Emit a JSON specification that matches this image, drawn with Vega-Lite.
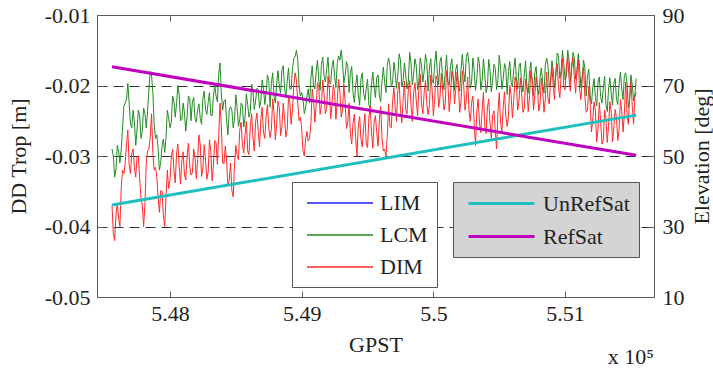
{
"$schema": "https://vega.github.io/schema/vega-lite/v6.json",
"width": 557, "height": 282,
"autosize": {"type": "none"},
"padding": {"left": 97, "top": 15, "right": 59, "bottom": 74},
"background": "white",
"config": {"view": {"stroke": "#5a5a5a", "strokeWidth": 1}, "font": "Liberation Serif"},
"title": {"text": "x 10⁵", "orient": "bottom", "anchor": "end", "frame": "group", "fontSize": 22, "fontWeight": "normal", "font": "Liberation Serif", "color": "#222222", "offset": -8},
"datasets": {
"trop": [
{"t":547560,"LCM":-0.0290,"DIM":-0.0370},{"t":547570,"LCM":-0.0300,"DIM":-0.0410},{"t":547580,"LCM":-0.0330,"DIM":-0.0420},{"t":547590,"LCM":-0.0320,"DIM":-0.0385},{"t":547600,"LCM":-0.0285,"DIM":-0.0367},{"t":547610,"LCM":-0.0293,"DIM":-0.0388},{"t":547620,"LCM":-0.0310,"DIM":-0.0400},{"t":547630,"LCM":-0.0291,"DIM":-0.0344},{"t":547640,"LCM":-0.0260,"DIM":-0.0320},{"t":547650,"LCM":-0.0229,"DIM":-0.0325},
{"t":547660,"LCM":-0.0225,"DIM":-0.0310},{"t":547670,"LCM":-0.0220,"DIM":-0.0284},{"t":547680,"LCM":-0.0197,"DIM":-0.0263},{"t":547690,"LCM":-0.0224,"DIM":-0.0312},{"t":547700,"LCM":-0.0255,"DIM":-0.0325},{"t":547710,"LCM":-0.0260,"DIM":-0.0296},{"t":547720,"LCM":-0.0235,"DIM":-0.0290},{"t":547730,"LCM":-0.0252,"DIM":-0.0316},{"t":547740,"LCM":-0.0285,"DIM":-0.0330},{"t":547750,"LCM":-0.0263,"DIM":-0.0301},
{"t":547760,"LCM":-0.0235,"DIM":-0.0300},{"t":547770,"LCM":-0.0243,"DIM":-0.0332},{"t":547780,"LCM":-0.0275,"DIM":-0.0360},{"t":547790,"LCM":-0.0264,"DIM":-0.0370},{"t":547800,"LCM":-0.0232,"DIM":-0.0400},{"t":547810,"LCM":-0.0240,"DIM":-0.0368},{"t":547820,"LCM":-0.0260,"DIM":-0.0310},{"t":547830,"LCM":-0.0237,"DIM":-0.0293},{"t":547840,"LCM":-0.0205,"DIM":-0.0290},{"t":547850,"LCM":-0.0180,"DIM":-0.0274},
{"t":547860,"LCM":-0.0185,"DIM":-0.0240},{"t":547870,"LCM":-0.0210,"DIM":-0.0295},{"t":547880,"LCM":-0.0255,"DIM":-0.0320},{"t":547890,"LCM":-0.0275,"DIM":-0.0316},{"t":547900,"LCM":-0.0270,"DIM":-0.0330},{"t":547910,"LCM":-0.0290,"DIM":-0.0359},{"t":547920,"LCM":-0.0320,"DIM":-0.0380},{"t":547930,"LCM":-0.0309,"DIM":-0.0349},{"t":547940,"LCM":-0.0285,"DIM":-0.0350},{"t":547950,"LCM":-0.0276,"DIM":-0.0385},
{"t":547960,"LCM":-0.0295,"DIM":-0.0400},{"t":547970,"LCM":-0.0274,"DIM":-0.0357},{"t":547980,"LCM":-0.0235,"DIM":-0.0320},{"t":547990,"LCM":-0.0246,"DIM":-0.0346},{"t":548000,"LCM":-0.0260,"DIM":-0.0335},{"t":548010,"LCM":-0.0253,"DIM":-0.0301},{"t":548020,"LCM":-0.0215,"DIM":-0.0290},{"t":548030,"LCM":-0.0222,"DIM":-0.0320},{"t":548040,"LCM":-0.0245,"DIM":-0.0338},{"t":548050,"LCM":-0.0226,"DIM":-0.0297},
{"t":548060,"LCM":-0.0200,"DIM":-0.0283},{"t":548070,"LCM":-0.0213,"DIM":-0.0314},{"t":548080,"LCM":-0.0250,"DIM":-0.0340},{"t":548090,"LCM":-0.0248,"DIM":-0.0307},{"t":548100,"LCM":-0.0225,"DIM":-0.0294},{"t":548110,"LCM":-0.0239,"DIM":-0.0327},{"t":548120,"LCM":-0.0265,"DIM":-0.0334},{"t":548130,"LCM":-0.0244,"DIM":-0.0301},{"t":548140,"LCM":-0.0215,"DIM":-0.0282},{"t":548150,"LCM":-0.0218,"DIM":-0.0314},
{"t":548160,"LCM":-0.0250,"DIM":-0.0327},{"t":548170,"LCM":-0.0224,"DIM":-0.0324},{"t":548180,"LCM":-0.0217,"DIM":-0.0290},{"t":548190,"LCM":-0.0247,"DIM":-0.0302},{"t":548200,"LCM":-0.0252,"DIM":-0.0332},{"t":548210,"LCM":-0.0234,"DIM":-0.0305},{"t":548220,"LCM":-0.0226,"DIM":-0.0270},{"t":548230,"LCM":-0.0247,"DIM":-0.0284},{"t":548240,"LCM":-0.0255,"DIM":-0.0329},{"t":548250,"LCM":-0.0218,"DIM":-0.0317},
{"t":548260,"LCM":-0.0208,"DIM":-0.0284},{"t":548270,"LCM":-0.0234,"DIM":-0.0306},{"t":548280,"LCM":-0.0241,"DIM":-0.0333},{"t":548290,"LCM":-0.0224,"DIM":-0.0323},{"t":548300,"LCM":-0.0210,"DIM":-0.0277},{"t":548310,"LCM":-0.0242,"DIM":-0.0294},{"t":548320,"LCM":-0.0243,"DIM":-0.0335},{"t":548330,"LCM":-0.0214,"DIM":-0.0313},{"t":548340,"LCM":-0.0200,"DIM":-0.0278},{"t":548350,"LCM":-0.0215,"DIM":-0.0281},
{"t":548360,"LCM":-0.0223,"DIM":-0.0312},{"t":548370,"LCM":-0.0184,"DIM":-0.0271},{"t":548380,"LCM":-0.0168,"DIM":-0.0225},{"t":548390,"LCM":-0.0212,"DIM":-0.0258},{"t":548400,"LCM":-0.0235,"DIM":-0.0310},{"t":548410,"LCM":-0.0222,"DIM":-0.0311},{"t":548420,"LCM":-0.0220,"DIM":-0.0286},{"t":548430,"LCM":-0.0249,"DIM":-0.0307},{"t":548440,"LCM":-0.0270,"DIM":-0.0342},{"t":548450,"LCM":-0.0235,"DIM":-0.0335},
{"t":548460,"LCM":-0.0230,"DIM":-0.0310},{"t":548470,"LCM":-0.0235,"DIM":-0.0349},{"t":548480,"LCM":-0.0260,"DIM":-0.0358},{"t":548490,"LCM":-0.0249,"DIM":-0.0313},{"t":548500,"LCM":-0.0213,"DIM":-0.0285},{"t":548510,"LCM":-0.0231,"DIM":-0.0299},{"t":548520,"LCM":-0.0258,"DIM":-0.0305},{"t":548530,"LCM":-0.0248,"DIM":-0.0263},{"t":548540,"LCM":-0.0225,"DIM":-0.0252},{"t":548550,"LCM":-0.0228,"DIM":-0.0284},
{"t":548560,"LCM":-0.0259,"DIM":-0.0296},{"t":548570,"LCM":-0.0245,"DIM":-0.0271},{"t":548580,"LCM":-0.0212,"DIM":-0.0251},{"t":548590,"LCM":-0.0227,"DIM":-0.0293},{"t":548600,"LCM":-0.0245,"DIM":-0.0298},{"t":548610,"LCM":-0.0237,"DIM":-0.0257},{"t":548620,"LCM":-0.0198,"DIM":-0.0240},{"t":548630,"LCM":-0.0208,"DIM":-0.0273},{"t":548640,"LCM":-0.0234,"DIM":-0.0293},{"t":548650,"LCM":-0.0222,"DIM":-0.0252},
{"t":548660,"LCM":-0.0204,"DIM":-0.0239},{"t":548670,"LCM":-0.0206,"DIM":-0.0265},{"t":548680,"LCM":-0.0232,"DIM":-0.0287},{"t":548690,"LCM":-0.0222,"DIM":-0.0249},{"t":548700,"LCM":-0.0192,"DIM":-0.0231},{"t":548710,"LCM":-0.0204,"DIM":-0.0266},{"t":548720,"LCM":-0.0227,"DIM":-0.0275},{"t":548730,"LCM":-0.0210,"DIM":-0.0244},{"t":548740,"LCM":-0.0185,"DIM":-0.0227},{"t":548750,"LCM":-0.0193,"DIM":-0.0260},
{"t":548760,"LCM":-0.0231,"DIM":-0.0274},{"t":548770,"LCM":-0.0197,"DIM":-0.0262},{"t":548780,"LCM":-0.0182,"DIM":-0.0219},{"t":548790,"LCM":-0.0216,"DIM":-0.0239},{"t":548800,"LCM":-0.0225,"DIM":-0.0277},{"t":548810,"LCM":-0.0197,"DIM":-0.0254},{"t":548820,"LCM":-0.0179,"DIM":-0.0222},{"t":548830,"LCM":-0.0201,"DIM":-0.0231},{"t":548840,"LCM":-0.0211,"DIM":-0.0271},{"t":548850,"LCM":-0.0178,"DIM":-0.0258},
{"t":548860,"LCM":-0.0172,"DIM":-0.0225},{"t":548870,"LCM":-0.0204,"DIM":-0.0246},{"t":548880,"LCM":-0.0217,"DIM":-0.0273},{"t":548890,"LCM":-0.0194,"DIM":-0.0263},{"t":548900,"LCM":-0.0175,"DIM":-0.0216},{"t":548910,"LCM":-0.0205,"DIM":-0.0224},{"t":548920,"LCM":-0.0205,"DIM":-0.0255},{"t":548930,"LCM":-0.0176,"DIM":-0.0234},{"t":548940,"LCM":-0.0162,"DIM":-0.0200},{"t":548950,"LCM":-0.0159,"DIM":-0.0182},
{"t":548960,"LCM":-0.0150,"DIM":-0.0192},{"t":548970,"LCM":-0.0163,"DIM":-0.0223},{"t":548980,"LCM":-0.0200,"DIM":-0.0250},{"t":548990,"LCM":-0.0215,"DIM":-0.0245},{"t":549000,"LCM":-0.0210,"DIM":-0.0260},{"t":549010,"LCM":-0.0219,"DIM":-0.0293},{"t":549020,"LCM":-0.0240,"DIM":-0.0300},{"t":549030,"LCM":-0.0232,"DIM":-0.0276},{"t":549040,"LCM":-0.0215,"DIM":-0.0265},{"t":549050,"LCM":-0.0205,"DIM":-0.0279},
{"t":549060,"LCM":-0.0225,"DIM":-0.0275},{"t":549070,"LCM":-0.0189,"DIM":-0.0255},{"t":549080,"LCM":-0.0172,"DIM":-0.0205},{"t":549090,"LCM":-0.0201,"DIM":-0.0220},{"t":549100,"LCM":-0.0205,"DIM":-0.0252},{"t":549110,"LCM":-0.0180,"DIM":-0.0228},{"t":549120,"LCM":-0.0164,"DIM":-0.0196},{"t":549130,"LCM":-0.0192,"DIM":-0.0203},{"t":549140,"LCM":-0.0207,"DIM":-0.0241},{"t":549150,"LCM":-0.0170,"DIM":-0.0227},
{"t":549160,"LCM":-0.0160,"DIM":-0.0192},{"t":549170,"LCM":-0.0187,"DIM":-0.0213},{"t":549180,"LCM":-0.0195,"DIM":-0.0240},{"t":549190,"LCM":-0.0176,"DIM":-0.0232},{"t":549200,"LCM":-0.0160,"DIM":-0.0187},{"t":549210,"LCM":-0.0194,"DIM":-0.0205},{"t":549220,"LCM":-0.0198,"DIM":-0.0247},{"t":549230,"LCM":-0.0173,"DIM":-0.0229},{"t":549240,"LCM":-0.0164,"DIM":-0.0199},{"t":549250,"LCM":-0.0187,"DIM":-0.0210},
{"t":549260,"LCM":-0.0203,"DIM":-0.0248},{"t":549270,"LCM":-0.0169,"DIM":-0.0222},{"t":549280,"LCM":-0.0158,"DIM":-0.0191},{"t":549290,"LCM":-0.0164,"DIM":-0.0208},{"t":549300,"LCM":-0.0150,"DIM":-0.0245},{"t":549310,"LCM":-0.0168,"DIM":-0.0235},{"t":549320,"LCM":-0.0197,"DIM":-0.0198},{"t":549330,"LCM":-0.0186,"DIM":-0.0223},{"t":549340,"LCM":-0.0166,"DIM":-0.0261},{"t":549350,"LCM":-0.0173,"DIM":-0.0252},
{"t":549360,"LCM":-0.0210,"DIM":-0.0225},{"t":549370,"LCM":-0.0182,"DIM":-0.0269},{"t":549380,"LCM":-0.0173,"DIM":-0.0283},{"t":549390,"LCM":-0.0211,"DIM":-0.0253},{"t":549400,"LCM":-0.0224,"DIM":-0.0241},{"t":549410,"LCM":-0.0200,"DIM":-0.0275},{"t":549420,"LCM":-0.0185,"DIM":-0.0300},{"t":549430,"LCM":-0.0213,"DIM":-0.0256},{"t":549440,"LCM":-0.0228,"DIM":-0.0244},{"t":549450,"LCM":-0.0191,"DIM":-0.0276},
{"t":549460,"LCM":-0.0182,"DIM":-0.0287},{"t":549470,"LCM":-0.0211,"DIM":-0.0261},{"t":549480,"LCM":-0.0221,"DIM":-0.0240},{"t":549490,"LCM":-0.0204,"DIM":-0.0282},{"t":549500,"LCM":-0.0191,"DIM":-0.0288},{"t":549510,"LCM":-0.0227,"DIM":-0.0247},{"t":549520,"LCM":-0.0232,"DIM":-0.0229},{"t":549530,"LCM":-0.0199,"DIM":-0.0265},{"t":549540,"LCM":-0.0181,"DIM":-0.0289},{"t":549550,"LCM":-0.0202,"DIM":-0.0252},
{"t":549560,"LCM":-0.0217,"DIM":-0.0243},{"t":549570,"LCM":-0.0189,"DIM":-0.0267},{"t":549580,"LCM":-0.0185,"DIM":-0.0286},{"t":549590,"LCM":-0.0214,"DIM":-0.0248},{"t":549600,"LCM":-0.0223,"DIM":-0.0230},{"t":549610,"LCM":-0.0193,"DIM":-0.0275},{"t":549620,"LCM":-0.0174,"DIM":-0.0293},{"t":549630,"LCM":-0.0196,"DIM":-0.0290},{"t":549640,"LCM":-0.0210,"DIM":-0.0300},{"t":549650,"LCM":-0.0171,"DIM":-0.0272},
{"t":549660,"LCM":-0.0161,"DIM":-0.0226},{"t":549670,"LCM":-0.0172,"DIM":-0.0258},{"t":549680,"LCM":-0.0202,"DIM":-0.0260},{"t":549690,"LCM":-0.0197,"DIM":-0.0223},{"t":549700,"LCM":-0.0167,"DIM":-0.0203},{"t":549710,"LCM":-0.0181,"DIM":-0.0231},{"t":549720,"LCM":-0.0204,"DIM":-0.0251},{"t":549730,"LCM":-0.0186,"DIM":-0.0207},{"t":549740,"LCM":-0.0155,"DIM":-0.0195},{"t":549750,"LCM":-0.0164,"DIM":-0.0234},
{"t":549760,"LCM":-0.0201,"DIM":-0.0253},{"t":549770,"LCM":-0.0194,"DIM":-0.0221},{"t":549780,"LCM":-0.0168,"DIM":-0.0194},{"t":549790,"LCM":-0.0185,"DIM":-0.0235},{"t":549800,"LCM":-0.0205,"DIM":-0.0240},{"t":549810,"LCM":-0.0194,"DIM":-0.0205},{"t":549820,"LCM":-0.0153,"DIM":-0.0193},{"t":549830,"LCM":-0.0168,"DIM":-0.0228},{"t":549840,"LCM":-0.0199,"DIM":-0.0251},{"t":549850,"LCM":-0.0184,"DIM":-0.0210},
{"t":549860,"LCM":-0.0162,"DIM":-0.0196},{"t":549870,"LCM":-0.0172,"DIM":-0.0222},{"t":549880,"LCM":-0.0206,"DIM":-0.0243},{"t":549890,"LCM":-0.0194,"DIM":-0.0204},{"t":549900,"LCM":-0.0161,"DIM":-0.0184},{"t":549910,"LCM":-0.0172,"DIM":-0.0225},{"t":549920,"LCM":-0.0195,"DIM":-0.0240},{"t":549930,"LCM":-0.0180,"DIM":-0.0210},{"t":549940,"LCM":-0.0156,"DIM":-0.0193},{"t":549950,"LCM":-0.0167,"DIM":-0.0226},
{"t":549960,"LCM":-0.0208,"DIM":-0.0241},{"t":549970,"LCM":-0.0175,"DIM":-0.0228},{"t":549980,"LCM":-0.0162,"DIM":-0.0185},{"t":549990,"LCM":-0.0192,"DIM":-0.0205},{"t":550000,"LCM":-0.0197,"DIM":-0.0243},{"t":550010,"LCM":-0.0169,"DIM":-0.0219},{"t":550020,"LCM":-0.0151,"DIM":-0.0186},{"t":550030,"LCM":-0.0181,"DIM":-0.0193},{"t":550040,"LCM":-0.0199,"DIM":-0.0231},{"t":550050,"LCM":-0.0166,"DIM":-0.0217},
{"t":550060,"LCM":-0.0160,"DIM":-0.0183},{"t":550070,"LCM":-0.0192,"DIM":-0.0206},{"t":550080,"LCM":-0.0206,"DIM":-0.0235},{"t":550090,"LCM":-0.0180,"DIM":-0.0225},{"t":550100,"LCM":-0.0157,"DIM":-0.0179},{"t":550110,"LCM":-0.0194,"DIM":-0.0196},{"t":550120,"LCM":-0.0200,"DIM":-0.0237},{"t":550130,"LCM":-0.0173,"DIM":-0.0215},{"t":550140,"LCM":-0.0162,"DIM":-0.0180},{"t":550150,"LCM":-0.0188,"DIM":-0.0189},
{"t":550160,"LCM":-0.0207,"DIM":-0.0226},{"t":550170,"LCM":-0.0177,"DIM":-0.0206},{"t":550180,"LCM":-0.0170,"DIM":-0.0181},{"t":550190,"LCM":-0.0199,"DIM":-0.0200},{"t":550200,"LCM":-0.0208,"DIM":-0.0238},{"t":550210,"LCM":-0.0176,"DIM":-0.0222},{"t":550220,"LCM":-0.0156,"DIM":-0.0179},{"t":550230,"LCM":-0.0180,"DIM":-0.0200},{"t":550240,"LCM":-0.0195,"DIM":-0.0235},{"t":550250,"LCM":-0.0159,"DIM":-0.0221},
{"t":550260,"LCM":-0.0153,"DIM":-0.0188},{"t":550270,"LCM":-0.0169,"DIM":-0.0235},{"t":550280,"LCM":-0.0204,"DIM":-0.0251},{"t":550290,"LCM":-0.0195,"DIM":-0.0224},{"t":550300,"LCM":-0.0161,"DIM":-0.0215},{"t":550310,"LCM":-0.0179,"DIM":-0.0254},{"t":550320,"LCM":-0.0207,"DIM":-0.0285},{"t":550330,"LCM":-0.0190,"DIM":-0.0236},{"t":550340,"LCM":-0.0160,"DIM":-0.0219},{"t":550350,"LCM":-0.0169,"DIM":-0.0253},
{"t":550360,"LCM":-0.0206,"DIM":-0.0267},{"t":550370,"LCM":-0.0193,"DIM":-0.0236},{"t":550380,"LCM":-0.0162,"DIM":-0.0210},{"t":550390,"LCM":-0.0184,"DIM":-0.0257},{"t":550400,"LCM":-0.0210,"DIM":-0.0268},{"t":550410,"LCM":-0.0202,"DIM":-0.0232},{"t":550420,"LCM":-0.0163,"DIM":-0.0219},{"t":550430,"LCM":-0.0178,"DIM":-0.0253},{"t":550440,"LCM":-0.0209,"DIM":-0.0275},{"t":550450,"LCM":-0.0193,"DIM":-0.0242},
{"t":550460,"LCM":-0.0170,"DIM":-0.0236},{"t":550470,"LCM":-0.0176,"DIM":-0.0265},{"t":550480,"LCM":-0.0206,"DIM":-0.0290},{"t":550490,"LCM":-0.0192,"DIM":-0.0240},{"t":550500,"LCM":-0.0157,"DIM":-0.0210},{"t":550510,"LCM":-0.0175,"DIM":-0.0252},{"t":550520,"LCM":-0.0205,"DIM":-0.0267},{"t":550530,"LCM":-0.0191,"DIM":-0.0231},{"t":550540,"LCM":-0.0169,"DIM":-0.0209},{"t":550550,"LCM":-0.0176,"DIM":-0.0243},
{"t":550560,"LCM":-0.0213,"DIM":-0.0258},{"t":550570,"LCM":-0.0180,"DIM":-0.0244},{"t":550580,"LCM":-0.0166,"DIM":-0.0200},{"t":550590,"LCM":-0.0196,"DIM":-0.0214},{"t":550600,"LCM":-0.0202,"DIM":-0.0246},{"t":550610,"LCM":-0.0177,"DIM":-0.0221},{"t":550620,"LCM":-0.0161,"DIM":-0.0188},{"t":550630,"LCM":-0.0189,"DIM":-0.0196},{"t":550640,"LCM":-0.0205,"DIM":-0.0235},{"t":550650,"LCM":-0.0173,"DIM":-0.0222},
{"t":550660,"LCM":-0.0168,"DIM":-0.0189},{"t":550670,"LCM":-0.0198,"DIM":-0.0211},{"t":550680,"LCM":-0.0209,"DIM":-0.0238},{"t":550690,"LCM":-0.0185,"DIM":-0.0233},{"t":550700,"LCM":-0.0165,"DIM":-0.0191},{"t":550710,"LCM":-0.0203,"DIM":-0.0202},{"t":550720,"LCM":-0.0211,"DIM":-0.0237},{"t":550730,"LCM":-0.0181,"DIM":-0.0214},{"t":550740,"LCM":-0.0167,"DIM":-0.0179},{"t":550750,"LCM":-0.0194,"DIM":-0.0193},
{"t":550760,"LCM":-0.0215,"DIM":-0.0235},{"t":550770,"LCM":-0.0182,"DIM":-0.0214},{"t":550780,"LCM":-0.0173,"DIM":-0.0188},{"t":550790,"LCM":-0.0203,"DIM":-0.0202},{"t":550800,"LCM":-0.0213,"DIM":-0.0236},{"t":550810,"LCM":-0.0188,"DIM":-0.0226},{"t":550820,"LCM":-0.0175,"DIM":-0.0190},{"t":550830,"LCM":-0.0197,"DIM":-0.0207},{"t":550840,"LCM":-0.0211,"DIM":-0.0238},{"t":550850,"LCM":-0.0171,"DIM":-0.0219},
{"t":550860,"LCM":-0.0161,"DIM":-0.0181},{"t":550870,"LCM":-0.0172,"DIM":-0.0219},{"t":550880,"LCM":-0.0202,"DIM":-0.0226},{"t":550890,"LCM":-0.0196,"DIM":-0.0191},{"t":550900,"LCM":-0.0165,"DIM":-0.0173},{"t":550910,"LCM":-0.0179,"DIM":-0.0201},{"t":550920,"LCM":-0.0203,"DIM":-0.0220},{"t":550930,"LCM":-0.0185,"DIM":-0.0179},{"t":550940,"LCM":-0.0154,"DIM":-0.0169},{"t":550950,"LCM":-0.0158,"DIM":-0.0203},
{"t":550960,"LCM":-0.0190,"DIM":-0.0217},{"t":550970,"LCM":-0.0179,"DIM":-0.0186},{"t":550980,"LCM":-0.0150,"DIM":-0.0161},{"t":550990,"LCM":-0.0169,"DIM":-0.0202},{"t":551000,"LCM":-0.0192,"DIM":-0.0206},{"t":551010,"LCM":-0.0186,"DIM":-0.0171},{"t":551020,"LCM":-0.0150,"DIM":-0.0160},{"t":551030,"LCM":-0.0164,"DIM":-0.0190},{"t":551040,"LCM":-0.0194,"DIM":-0.0208},{"t":551050,"LCM":-0.0177,"DIM":-0.0170},
{"t":551060,"LCM":-0.0153,"DIM":-0.0160},{"t":551070,"LCM":-0.0160,"DIM":-0.0188},{"t":551080,"LCM":-0.0191,"DIM":-0.0211},{"t":551090,"LCM":-0.0183,"DIM":-0.0177},{"t":551100,"LCM":-0.0155,"DIM":-0.0163},{"t":551110,"LCM":-0.0173,"DIM":-0.0205},{"t":551120,"LCM":-0.0203,"DIM":-0.0220},{"t":551130,"LCM":-0.0188,"DIM":-0.0190},{"t":551140,"LCM":-0.0164,"DIM":-0.0174},{"t":551150,"LCM":-0.0175,"DIM":-0.0215},
{"t":551160,"LCM":-0.0215,"DIM":-0.0238},{"t":551170,"LCM":-0.0186,"DIM":-0.0235},{"t":551180,"LCM":-0.0177,"DIM":-0.0201},{"t":551190,"LCM":-0.0214,"DIM":-0.0225},{"t":551200,"LCM":-0.0226,"DIM":-0.0266},{"t":551210,"LCM":-0.0203,"DIM":-0.0249},{"t":551220,"LCM":-0.0190,"DIM":-0.0223},{"t":551230,"LCM":-0.0216,"DIM":-0.0236},{"t":551240,"LCM":-0.0229,"DIM":-0.0280},{"t":551250,"LCM":-0.0195,"DIM":-0.0262},
{"t":551260,"LCM":-0.0188,"DIM":-0.0224},{"t":551270,"LCM":-0.0216,"DIM":-0.0251},{"t":551280,"LCM":-0.0225,"DIM":-0.0283},{"t":551290,"LCM":-0.0204,"DIM":-0.0277},{"t":551300,"LCM":-0.0187,"DIM":-0.0235},{"t":551310,"LCM":-0.0227,"DIM":-0.0246},{"t":551320,"LCM":-0.0237,"DIM":-0.0281},{"t":551330,"LCM":-0.0205,"DIM":-0.0258},{"t":551340,"LCM":-0.0189,"DIM":-0.0223},{"t":551350,"LCM":-0.0212,"DIM":-0.0238},
{"t":551360,"LCM":-0.0228,"DIM":-0.0280},{"t":551370,"LCM":-0.0197,"DIM":-0.0259},{"t":551380,"LCM":-0.0190,"DIM":-0.0234},{"t":551390,"LCM":-0.0219,"DIM":-0.0246},{"t":551400,"LCM":-0.0227,"DIM":-0.0278},{"t":551410,"LCM":-0.0198,"DIM":-0.0262},{"t":551420,"LCM":-0.0181,"DIM":-0.0220},{"t":551430,"LCM":-0.0205,"DIM":-0.0236},{"t":551440,"LCM":-0.0220,"DIM":-0.0266},{"t":551450,"LCM":-0.0186,"DIM":-0.0240},
{"t":551460,"LCM":-0.0182,"DIM":-0.0195},{"t":551470,"LCM":-0.0197,"DIM":-0.0240},{"t":551480,"LCM":-0.0231,"DIM":-0.0255},{"t":551490,"LCM":-0.0220,"DIM":-0.0216},{"t":551500,"LCM":-0.0185,"DIM":-0.0195},{"t":551510,"LCM":-0.0199,"DIM":-0.0229},{"t":551520,"LCM":-0.0222,"DIM":-0.0255},{"t":551530,"LCM":-0.0212,"DIM":-0.0217},{"t":551540,"LCM":-0.0190,"DIM":-0.0210}
],
"elev": [
{"t":547560,"sat":"UnRefSat","elev":36.1},{"t":551540,"sat":"UnRefSat","elev":61.6},
{"t":547560,"sat":"RefSat","elev":75.3},{"t":551540,"sat":"RefSat","elev":50.2}
]
},
"layer": [
{
"data": {"name": "trop"},
"transform": [{"fold": ["LCM", "DIM"], "as": ["series", "value"]}],
"mark": {"type": "line", "strokeWidth": 1},
"encoding": {
"x": {"field": "t", "type": "quantitative", "scale": {"domain": [547446, 551675], "nice": false, "zero": false},
"axis": {"orient": "bottom", "values": [548000, 549000, 550000, 551000], "labelExpr": "format(datum.value/100000, '.2~f')", "title": "GPST", "domain": false, "grid": false, "tickSize": -6, "tickColor": "#5a5a5a", "labelFont": "Liberation Serif", "labelFontSize": 22, "labelColor": "#222222", "labelPadding": 12, "titleFont": "Liberation Serif", "titleFontSize": 22, "titleFontWeight": "normal", "titleColor": "#222222", "titlePadding": 10}},
"y": {"field": "value", "type": "quantitative", "scale": {"domain": [-0.05, -0.01], "nice": false, "zero": false},
"axis": {"orient": "left", "values": [-0.05, -0.04, -0.03, -0.02, -0.01], "labelExpr": "replace(format(datum.value, '.2f'), '−', '-')", "title": "DD Trop [m]", "domain": false, "tickSize": -6, "tickColor": "#5a5a5a", "labelFont": "Liberation Serif", "labelFontSize": 22, "labelColor": "#222222", "labelPadding": 13, "titleFont": "Liberation Serif", "titleFontSize": 22, "titleFontWeight": "normal", "titleColor": "#222222", "titlePadding": 14,
"grid": true, "gridColor": "#333333", "gridDash": [10, 6], "gridWidth": 1, "gridOpacity": {"condition": {"test": "datum.value < -0.045 || datum.value > -0.015", "value": 0}, "value": 1}}},
"color": {"field": "series", "type": "nominal", "scale": {"domain": ["LIM", "LCM", "DIM"], "range": ["#1f1fff", "#238b23", "#ff2a2a"]},
"legend": {"title": null, "orient": "none", "legendX": 195, "legendY": 167, "fillColor": "white", "strokeColor": "#555555", "padding": 9, "symbolType": "M-3,0L3,0", "symbolSize": 484, "symbolStrokeWidth": 1.3, "symbolOffset": 27, "labelFont": "Liberation Serif", "labelFontSize": 22, "labelColor": "#222222", "labelOffset": 28, "rowPadding": 9, "labelLimit": 200}}
}
},
{
"data": {"name": "elev"},
"mark": {"type": "line", "strokeWidth": 3},
"encoding": {
"x": {"field": "t", "type": "quantitative",
"axis": {"orient": "top", "values": [548000, 549000, 550000, 551000], "labels": false, "title": null, "domain": false, "grid": false, "tickSize": -6, "tickColor": "#5a5a5a"}},
"y": {"field": "elev", "type": "quantitative", "scale": {"domain": [10, 90], "nice": false, "zero": false},
"axis": {"orient": "right", "values": [10, 30, 50, 70, 90], "title": "Elevation [deg]", "titleAngle": -90, "domain": false, "grid": false, "tickSize": -6, "tickColor": "#5a5a5a", "labelFont": "Liberation Serif", "labelFontSize": 22, "labelColor": "#222222", "labelPadding": 14, "titleFont": "Liberation Serif", "titleFontSize": 22, "titleFontWeight": "normal", "titleColor": "#222222", "titlePadding": 29}},
"color": {"field": "sat", "type": "nominal", "scale": {"domain": ["UnRefSat", "RefSat"], "range": ["#1fbfbf", "#bf00bf"]},
"legend": {"title": null, "orient": "none", "legendX": 356, "legendY": 167, "fillColor": "#d4d4d4", "strokeColor": "#555555", "padding": 9, "symbolType": "M-3,0L3,0", "symbolSize": 484, "symbolStrokeWidth": 3, "symbolOffset": 27, "labelFont": "Liberation Serif", "labelFontSize": 22, "labelColor": "#222222", "labelOffset": 29, "rowPadding": 9, "labelLimit": 200}}
}
}
],
"resolve": {"scale": {"y": "independent", "color": "independent"}, "axis": {"x": "independent"}, "legend": {"color": "independent"}}
}
